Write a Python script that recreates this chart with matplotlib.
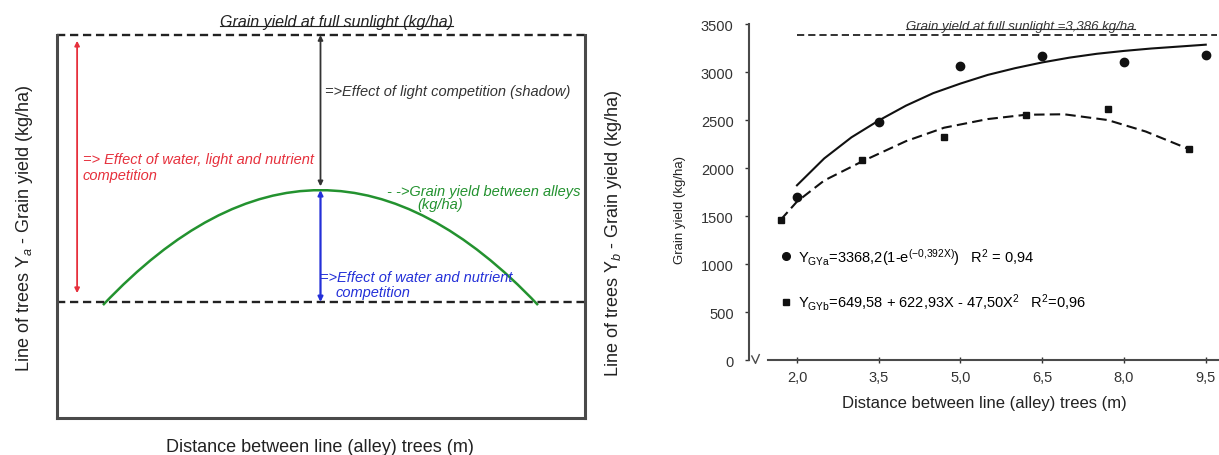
import matplotlib.pyplot as plt
from matplotlib.lines import Line2D
from matplotlib.path import Path
from matplotlib.patches import PathPatch

plt.rcParams['font.family'] = ['Liberation Sans', 'DejaVu Sans']
plt.rcParams['mathtext.fontset'] = 'custom'
plt.rcParams['mathtext.rm'] = 'Liberation Sans'
plt.rcParams['mathtext.it'] = 'Liberation Sans:italic'
plt.rcParams['mathtext.bf'] = 'Liberation Sans:bold'

# --- left panel: schematic levels (relative units 0-100) ---
full_sun_level = 100
alley_peak_level = 59.5
tree_line_level = 30.3
curve_end_level = 29.5
curve_ends_x = [8.7, 91.1]
peak_x = 49.9
red_arrow_x = 3.8
red_arrow_span = [32.6, 98.5]

# --- right panel: grain yield vs distance ---
dist_circles = [2.0, 3.5, 5.0, 6.5, 8.0, 9.5]
yield_circles = [1700, 2475, 3065, 3170, 3105, 3180]
dist_squares = [1.7, 3.2, 4.7, 6.2, 7.7, 9.2]
yield_squares = [1460, 2080, 2320, 2555, 2610, 2195]

fit_exp_x = [2.0, 2.5, 3.0, 3.5, 4.0, 4.5, 5.0, 5.5, 6.0, 6.5, 7.0, 7.5, 8.0, 8.5, 9.0, 9.5]
fit_exp_y = [1820, 2100, 2320, 2495, 2650, 2780, 2880, 2970, 3040, 3100, 3150, 3190, 3220, 3245, 3265, 3285]
fit_quad_x = [1.7, 2.0, 2.5, 3.2, 4.0, 4.7, 5.5, 6.2, 6.9, 7.7, 8.4, 9.2]
fit_quad_y = [1460, 1650, 1870, 2070, 2280, 2420, 2510, 2555, 2560, 2500, 2380, 2195]

full_sun_yield = 3386
full_sun_x = [2.0, 9.7]

xticks = [2.0, 3.5, 5.0, 6.5, 8.0, 9.5]
xtick_labels = ['2,0', '3,5', '5,0', '6,5', '8,0', '9,5']
yticks = [0, 500, 1000, 1500, 2000, 2500, 3000, 3500]

red = '#e6303c'
green = '#23922f'
blue = '#2430d8'
spine_gray = '#4a4a4a'

fig = plt.figure(figsize=(12.19, 4.56), dpi=100)

# ================= left schematic =================
ax1 = fig.add_axes([0.0468, 0.0811, 0.4331, 0.8399])
ax1.set_xlim(0, 100)
ax1.set_ylim(0, 100)
ax1.set_xticks([])
ax1.set_yticks([])
ax1.spines['top'].set_visible(False)
for s in ['left', 'right', 'bottom']:
    ax1.spines[s].set_color(spine_gray)
    ax1.spines[s].set_linewidth(2.2)

ax1.axhline(full_sun_level, color='#222222', lw=1.7, dashes=(3.5, 2.0), clip_on=False)
ax1.axhline(tree_line_level, color='#222222', lw=1.7, dashes=(3.5, 2.0))

# alley yield curve
verts = [(curve_ends_x[0], curve_end_level),
         (peak_x, 2 * alley_peak_level - curve_end_level),
         (curve_ends_x[1], curve_end_level)]
path = Path(verts, [Path.MOVETO, Path.CURVE3, Path.CURVE3])
ax1.add_patch(PathPatch(path, fc='none', ec=green, lw=1.8))

arrow_kw = dict(arrowstyle='<|-|>', mutation_scale=7, shrinkA=0, shrinkB=0)
ax1.annotate('', xy=(red_arrow_x, red_arrow_span[1]), xytext=(red_arrow_x, red_arrow_span[0]),
             arrowprops=dict(color=red, lw=1.3, **arrow_kw))
ax1.annotate('', xy=(peak_x, full_sun_level), xytext=(peak_x, alley_peak_level + 1),
             arrowprops=dict(color='#333333', lw=1.3, **arrow_kw))
ax1.annotate('', xy=(peak_x, alley_peak_level), xytext=(peak_x, tree_line_level),
             arrowprops=dict(color=blue, lw=1.6, **arrow_kw))

note = dict(ha='left', va='center', fontsize=10.5, style='italic')
title_left = ax1.text(53, 101.5, 'Grain yield at full sunlight (kg/ha)', ha='center',
                      va='bottom', fontsize=11.5, style='italic', color='#222222')
ax1.text(50.8, 85.4, '=>Effect of light competition (shadow)', color='#333333', **note)
ax1.text(4.9, 67.6, '=> Effect of water, light and nutrient', color=red, **note)
ax1.text(4.9, 63.4, 'competition', color=red, **note)
ax1.text(62.5, 59.3, '- ->Grain yield between alleys', color=green, **note)
ax1.text(68.2, 55.9, '(kg/ha)', color=green, **note)
ax1.text(49.8, 36.8, '=>Effect of water and nutrient', color=blue, **note)
ax1.text(52.7, 33.0, 'competition', color=blue, **note)

fig.text(0.0205, 0.5, 'Line of trees Y$_a$ - Grain yield (kg/ha)', rotation=90,
         ha='center', va='center', fontsize=13, color='#222222')
fig.text(0.2625, 0.0195, 'Distance between line (alley) trees (m)', ha='center', va='center',
         fontsize=13, color='#222222')

# middle label
fig.text(0.503, 0.489, 'Line of trees Y$_b$ - Grain yield (kg/ha)', rotation=90,
         ha='center', va='center', fontsize=13, color='#222222')

# ================= right scatter =================
ax2 = fig.add_axes([0.6144, 0.2083, 0.3856, 0.7368])
ax2.set_xlim(1.119, 9.743)
ax2.set_ylim(0, 3500)
ax2.spines['top'].set_visible(False)
ax2.spines['right'].set_visible(False)
ax2.spines['left'].set_color(spine_gray)
ax2.spines['bottom'].set_color(spine_gray)
ax2.spines['left'].set_linewidth(1.5)
ax2.spines['bottom'].set_linewidth(1.5)
ax2.spines['bottom'].set_bounds(1.47, 9.743)

ax2.set_xticks(xticks)
ax2.set_xticklabels(xtick_labels)
ax2.set_yticks(yticks)
ax2.tick_params(axis='y', direction='out', length=3, width=1, pad=8, labelsize=10.5,
                colors='#333333')
ax2.tick_params(axis='x', direction='inout', length=4, width=1, pad=5, labelsize=10.5,
                colors='#333333')

# axis break mark
ax2.plot([0.006, 0.014, 0.022], [0.012, -0.01, 0.016], color=spine_gray, lw=1,
         transform=ax2.transAxes, clip_on=False)

ax2.plot(full_sun_x, [full_sun_yield, full_sun_yield], color='#222222', lw=1.3,
         dashes=(4, 2.2))
title_right = ax2.text(6.1, full_sun_yield + 30, 'Grain yield at full sunlight =3,386 kg/ha',
                       ha='center', va='bottom', fontsize=9.5, style='italic', color='#333333')

ax2.plot(fit_exp_x, fit_exp_y, color='#111111', lw=1.5)
ax2.plot(fit_quad_x, fit_quad_y, color='#111111', lw=1.5, dashes=(5, 2.5))
ax2.plot(dist_circles, yield_circles, 'o', color='#111111', ms=6)
ax2.plot(dist_squares, yield_squares, 's', color='#111111', ms=5)

handles = [Line2D([], [], marker='o', ls='none', color='#111111', ms=5.5),
           Line2D([], [], marker='s', ls='none', color='#111111', ms=5)]
labels = [r'Y$_{\mathrm{GYa}}$=3368,2(1-e$^{\mathrm{(-0{,}392X)}}$)   R$^2$ = 0,94',
          r'Y$_{\mathrm{GYb}}$=649,58 + 622,93X - 47,50X$^2$   R$^2$=0,96']
ax2.legend(handles, labels, loc='upper left', bbox_to_anchor=(0.064, 0.34), frameon=False,
           fontsize=10.5, labelspacing=1.7, handletextpad=0.3, handlelength=1.0,
           borderpad=0, borderaxespad=0)

ax2.set_xlabel('Distance between line (alley) trees (m)', fontsize=12, color='#222222',
               labelpad=8)
fig.text(0.558, 0.54, 'Grain yield (kg/ha)', rotation=90, ha='center', va='center',
         fontsize=9.5, color='#222222')

# underline the two "full sunlight" captions
fig.canvas.draw()
W, H = fig.canvas.get_width_height()
for t in (title_left, title_right):
    bb = t.get_window_extent()
    yline = (bb.y0 + 2) / H
    fig.add_artist(Line2D([bb.x0 / W, bb.x1 / W], [yline, yline], color=t.get_color(),
                          lw=0.8, transform=fig.transFigure))

fig.savefig('out.png', dpi=100)
